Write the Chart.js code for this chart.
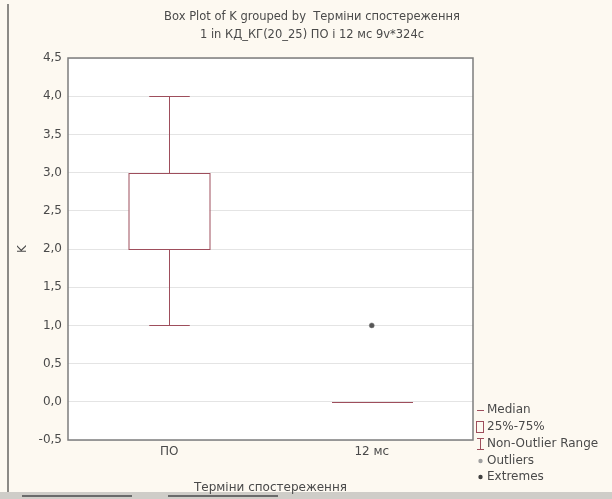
<!DOCTYPE html>
<html>
<head>
<meta charset="utf-8">
<script src="https://cdn.jsdelivr.net/npm/chart.js@4"></script>
<style>
  html, body { margin: 0; padding: 0; background: #fdf9f1; }
  #wrap { position: relative; width: 612px; height: 499px; }
</style>
</head>
<body>
<div id="wrap"><canvas id="boxChart" width="612" height="499"></canvas></div>
<script>
// data
const categories = ['ПО', '12 мс'];
const q1 = [2, 0];
const q3 = [3, 0];
const medians = [2, 0];
const whiskerLow = [1, 0];
const whiskerHigh = [4, 0];
const outlierCats = ['12 мс'];
const outlierValues = [1];

const yMin = -0.5, yMax = 4.5, yStep = 0.5;

const titleLines = ['Box Plot of K grouped by  Терміни спостереження', '1 in КД_КГ(20_25) ПО і 12 мс 9v*324c'];
const xTitle = 'Терміни спостереження';
const yTitle = 'K';
const legendItems = ['Median', '25%-75%', 'Non-Outlier Range', 'Outliers', 'Extremes'];

const boxColor = '#9e4e5c';
const textColor = '#4a4a4a';
const fontFamily = "'DejaVu Sans', Verdana, sans-serif";

const boxPlotPlugin = {
    id: 'boxPlotExtras',
    beforeDraw(chart) {
        const ctx = chart.ctx;
        const a = chart.chartArea;
        ctx.save();
        ctx.fillStyle = '#fdf9f1';
        ctx.fillRect(0, 0, chart.width, chart.height);
        // window frame
        ctx.fillStyle = '#8c8a86';
        ctx.fillRect(7, 4, 2, chart.height);
        ctx.fillStyle = '#cfcdc8';
        ctx.fillRect(0, 492, chart.width, 7);
        ctx.fillStyle = '#6a6a6a';
        ctx.fillRect(22, 495, 110, 2);
        ctx.fillRect(168, 495, 110, 2);
        ctx.fillStyle = '#ffffff';
        ctx.fillRect(a.left, a.top, a.right - a.left, a.bottom - a.top);
        ctx.restore();
    },
    afterDatasetsDraw(chart) {
        const ctx = chart.ctx;
        const xs = chart.scales.x, ys = chart.scales.y;
        const bars = chart.getDatasetMeta(0).data;
        const px = v => Math.round(v) + 0.5;
        ctx.save();
        ctx.strokeStyle = boxColor;
        ctx.lineWidth = 1;
        categories.forEach((c, i) => {
            const x = px(xs.getPixelForValue(i));
            const w = Math.round(bars[i].width);
            const cap = w / 4;
            const yLo = px(ys.getPixelForValue(whiskerLow[i]));
            const yHi = px(ys.getPixelForValue(whiskerHigh[i]));
            const yQ1 = px(ys.getPixelForValue(q1[i]));
            const yQ3 = px(ys.getPixelForValue(q3[i]));
            const yMed = px(ys.getPixelForValue(medians[i]));
            ctx.beginPath();
            ctx.moveTo(x, yLo); ctx.lineTo(x, yQ1);
            ctx.moveTo(x, yQ3); ctx.lineTo(x, yHi);
            ctx.moveTo(x - cap, yLo); ctx.lineTo(x + cap, yLo);
            ctx.moveTo(x - cap, yHi); ctx.lineTo(x + cap, yHi);
            ctx.moveTo(x - w / 2, yMed); ctx.lineTo(x + w / 2, yMed);
            ctx.stroke();
            if (yQ1 !== yQ3) {
                ctx.strokeRect(x - w / 2, yQ3, w, yQ1 - yQ3);
            }
        });
        const a = chart.chartArea;
        ctx.strokeStyle = '#7d7d7d';
        ctx.lineWidth = 1.5;
        ctx.strokeRect(a.left, a.top, a.right - a.left, a.bottom - a.top);
        ctx.restore();
    },
    afterDraw(chart) {
        const ctx = chart.ctx;
        ctx.save();
        ctx.fillStyle = textColor;
        ctx.font = '11.5px ' + fontFamily;
        ctx.textAlign = 'center';
        ctx.textBaseline = 'middle';
        ctx.fillText(titleLines[0], 312, 17);
        ctx.fillText(titleLines[1], 312, 35);

        // legend
        ctx.font = '12px ' + fontFamily;
        const lx = 475, ly = [410, 427, 444, 461, 477];
        ctx.textAlign = 'left';
        legendItems.forEach((t, i) => {
            ctx.fillStyle = textColor;
            ctx.fillText(t, lx + 12, ly[i]);
        });
        ctx.strokeStyle = boxColor;
        ctx.lineWidth = 1;
        ctx.beginPath();
        ctx.moveTo(lx + 2, ly[0] + 0.5); ctx.lineTo(lx + 9, ly[0] + 0.5);
        ctx.stroke();
        ctx.strokeRect(lx + 1.5, ly[1] - 5.5, 7, 11);
        ctx.beginPath();
        ctx.moveTo(lx + 5.5, ly[2] - 6); ctx.lineTo(lx + 5.5, ly[2] + 6);
        ctx.moveTo(lx + 2, ly[2] - 5.5); ctx.lineTo(lx + 9, ly[2] - 5.5);
        ctx.moveTo(lx + 2, ly[2] + 5.5); ctx.lineTo(lx + 9, ly[2] + 5.5);
        ctx.stroke();
        ctx.fillStyle = '#a0a0a0';
        ctx.beginPath(); ctx.arc(lx + 5.5, ly[3], 2.2, 0, Math.PI * 2); ctx.fill();
        ctx.fillStyle = '#404040';
        ctx.beginPath(); ctx.arc(lx + 5.5, ly[4], 2.2, 0, Math.PI * 2); ctx.fill();
        ctx.restore();
    }
};

function buildChart() {
    const ctx = document.getElementById('boxChart').getContext('2d');
    new Chart(ctx, {
        data: {
            labels: categories,
            datasets: [
                {
                    type: 'bar',
                    label: '25%-75%',
                    data: categories.map((c, i) => [q1[i], q3[i]]),
                    backgroundColor: '#ffffff',
                    borderWidth: 0,
                    barPercentage: 0.8,
                    categoryPercentage: 0.5
                },
                {
                    type: 'line',
                    label: 'Outliers',
                    data: outlierCats.map((c, i) => ({ x: c, y: outlierValues[i] })),
                    showLine: false,
                    pointRadius: 2.5,
                    pointBackgroundColor: '#555555',
                    pointBorderColor: '#777777',
                    pointBorderWidth: 0.5
                }
            ]
        },
        options: {
            responsive: false,
            animation: false,
            layout: { padding: { left: 8, right: 139, top: 58, bottom: 0 } },
            plugins: { legend: { display: false }, tooltip: { enabled: false }, title: { display: false } },
            scales: {
                x: {
                    type: 'category',
                    offset: true,
                    afterFit(s) { s.height = 59; },
                    grid: { display: false, drawTicks: false },
                    border: { display: false },
                    ticks: { color: textColor, font: { family: fontFamily, size: 12 }, padding: 5 },
                    title: { display: true, text: xTitle, color: textColor, font: { family: fontFamily, size: 12 }, padding: { top: 8 } }
                },
                y: {
                    min: yMin,
                    max: yMax,
                    afterFit(s) { s.width = 60; },
                    grid: { color: '#e4e4e4', drawTicks: false },
                    border: { display: false },
                    ticks: {
                        stepSize: yStep,
                        color: textColor,
                        padding: 6,
                        font: { family: fontFamily, size: 12 },
                        callback: v => v.toFixed(1).replace('.', ',')
                    },
                    title: { display: true, text: yTitle, color: textColor, font: { family: fontFamily, size: 12 }, padding: { top: 8, bottom: 4 } }
                }
            }
        },
        plugins: [boxPlotPlugin]
    });
}

window.addEventListener('DOMContentLoaded', buildChart);
</script>
</body>
</html>
